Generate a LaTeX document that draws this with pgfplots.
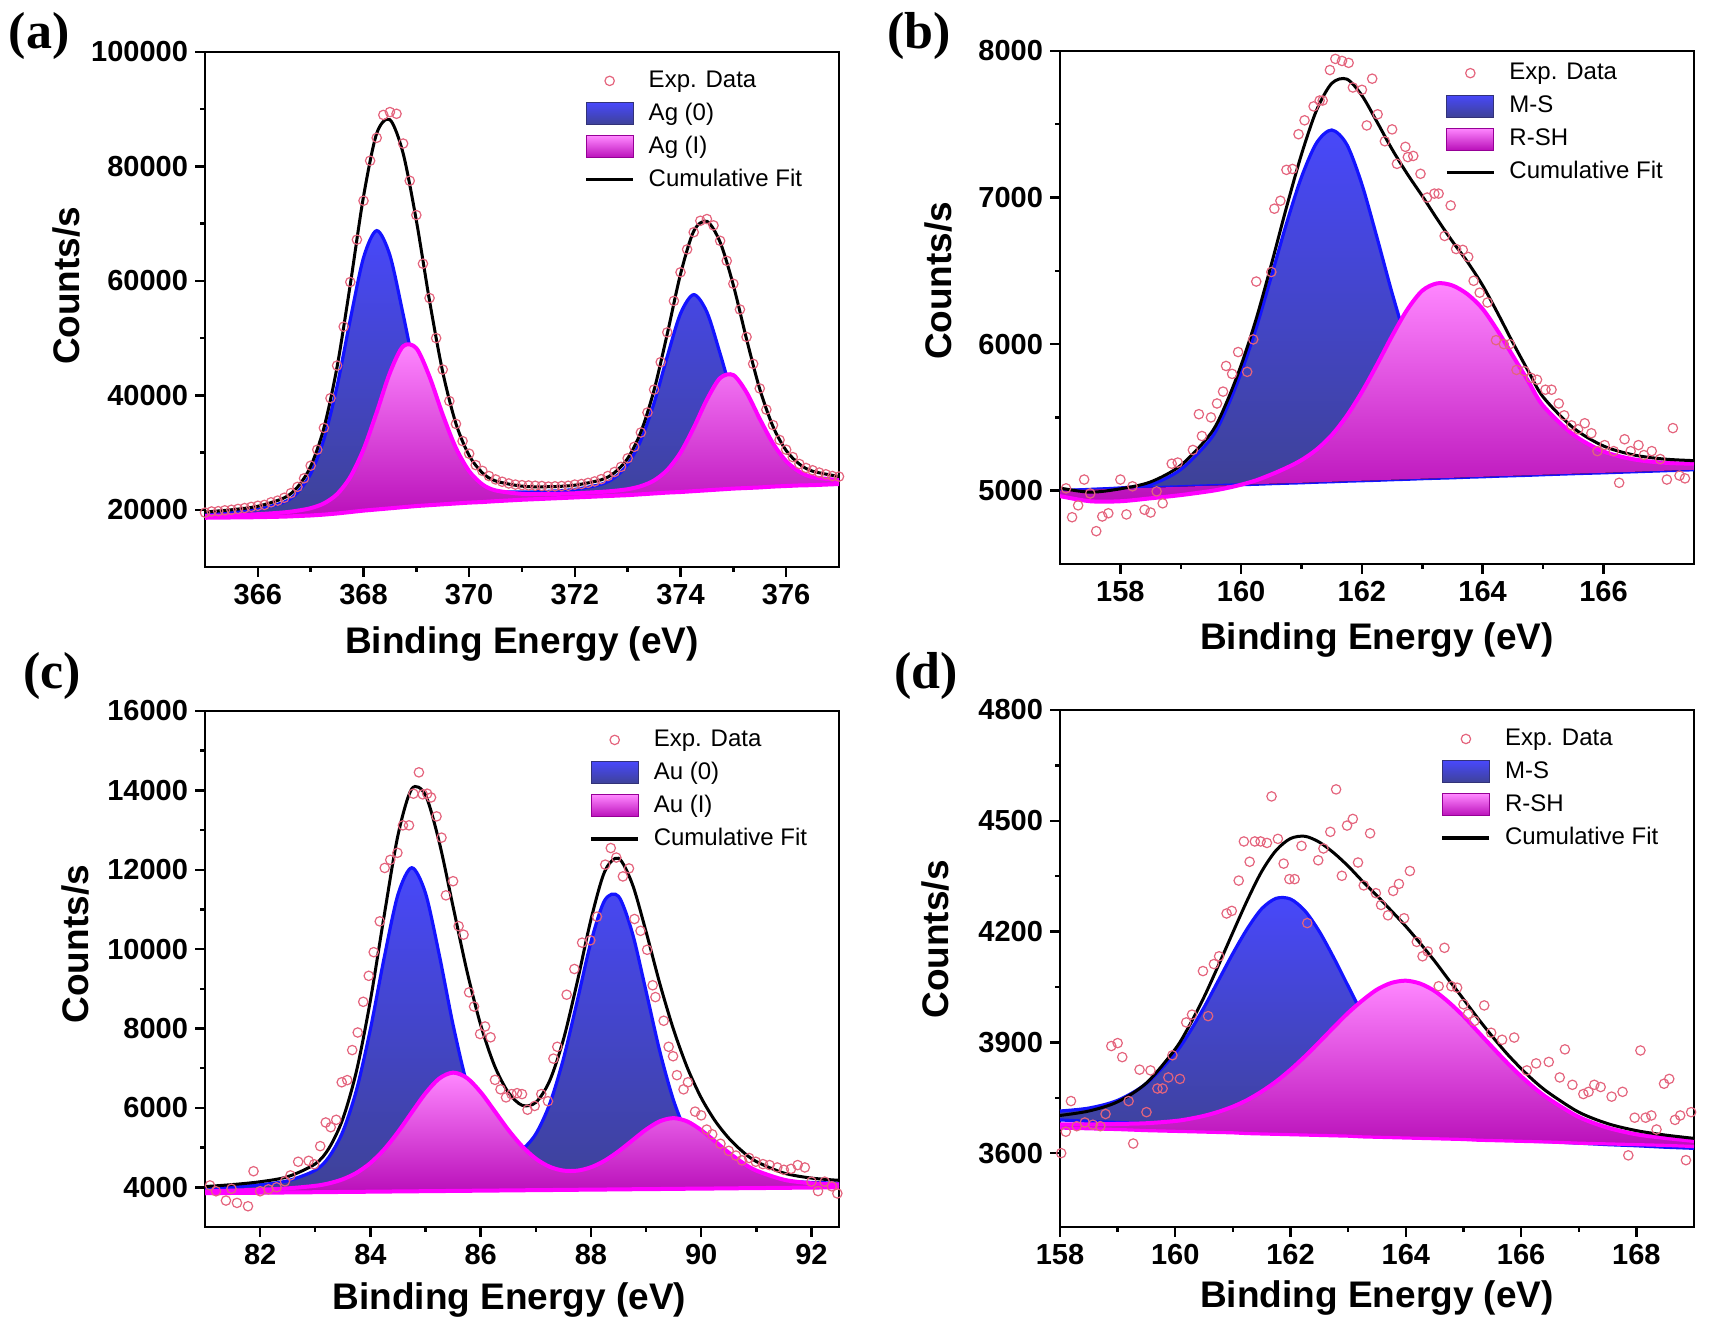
\documentclass[border=0pt]{standalone}
\usepackage{fontspec}
\setmainfont{Liberation Sans}
\newfontfamily\tnr{Liberation Serif}
\usepackage{pgfplots}
\pgfplotsset{compat=1.18}
\usepackage{pgfplotstable}
\usepgfplotslibrary{fillbetween}

\definecolor{bline}{RGB}{20,20,255}
\definecolor{btop}{RGB}{72,72,250}
\definecolor{bbot}{RGB}{62,66,150}
\definecolor{bdk}{RGB}{50,50,120}
\definecolor{mline}{RGB}{255,0,255}
\definecolor{mtop}{RGB}{255,135,255}
\definecolor{mbot}{RGB}{185,15,185}
\definecolor{mdk}{RGB}{150,0,150}
\definecolor{dat}{RGB}{228,100,125}

% ---------------- panel (a) ----------------
\pgfplotstableread{
x base c1 c2 fit
365 18600 19304 18904 19608
365.5 18650 19605 19043 19998
366 18700 20086 19225 20611
366.5 18800 21343 19546 22089
366.75 18900 23009 19839 23948
367 19000 26306 20277 27583
367.25 19150 32312 21110 34272
367.5 19350 41599 22733 44982
367.75 19600 53256 25727 59383
368 19850 64046 30540 74736
368.25 20050 68787 37034 85771
368.5 20250 64470 43940 88160
368.75 20450 54154 48576 82280
369 20650 42971 48234 70555
369.25 20800 34058 43252 56510
369.5 20950 28379 36620 44049
369.75 21100 25362 30780 35042
370 21250 23980 26750 29480
370.25 21350 23360 24445 26455
370.5 21500 23157 23380 25037
371 21750 23093 22784 24127
371.5 21950 23221 22754 24025
372 22150 23563 22883 24296
372.5 22350 24464 23127 25241
372.75 22450 25615 23313 26478
373 22550 27931 23591 28972
373.25 22700 32162 24127 33589
373.5 22850 38667 25120 40937
373.75 23000 46803 26961 50764
374 23100 54285 29987 61172
374.25 23250 57594 34343 68687
374.5 23400 54550 39261 70411
374.75 23550 47285 43020 66755
375 23700 39415 43538 59253
375.25 23800 33126 40510 49836
375.5 23900 29106 35891 41097
375.75 24050 26996 31616 34562
376 24150 25999 28501 30350
376.25 24250 25562 26666 27978
376.5 24300 25327 25711 26738
377 24500 25217 25193 25810
}\tA
\pgfplotstableread{
x y
365.0 19500
365.125 19700
365.25 19750
365.375 19900
365.5 20000
365.625 20150
365.75 20300
365.875 20500
366.0 20700
366.125 20850
366.25 21300
366.375 21600
366.5 22100
366.625 22900
366.75 24000
366.875 25500
367.0 27700
367.125 30500
367.25 34300
367.375 39500
367.5 45200
367.625 52000
367.75 59800
367.875 67200
368.0 74000
368.125 81000
368.25 85000
368.375 89000
368.5 89500
368.625 89200
368.75 84000
368.875 77500
369.0 71500
369.125 63000
369.25 57000
369.375 50000
369.5 44500
369.625 39000
369.75 35000
369.875 32000
370.0 29800
370.125 27800
370.25 26800
370.375 25900
370.5 25300
370.625 24900
370.75 24600
370.875 24400
371.0 24300
371.125 24250
371.25 24200
371.375 24150
371.5 24050
371.625 24100
371.75 24150
371.875 24200
372.0 24400
372.125 24500
372.25 24700
372.375 24950
372.5 25350
372.625 25900
372.75 26600
372.875 27500
373.0 29000
373.125 31000
373.25 33500
373.375 37000
373.5 41000
373.625 45800
373.75 51000
373.875 56500
374.0 61500
374.125 65500
374.25 68500
374.375 70500
374.5 70800
374.625 69700
374.75 67000
374.875 63500
375.0 59500
375.125 55000
375.25 50200
375.375 45500
375.5 41200
375.625 37500
375.75 34800
375.875 32200
376.0 30500
376.125 29200
376.25 28000
376.375 27300
376.5 26900
376.625 26500
376.75 26200
376.875 25900
377.0 25800
}\dA

% ---------------- panel (b) ----------------
\pgfplotstableread{
x base c1 c2 fit
157 5000 5000 4963 5018
157.5 5007 5009 4928 4990
158 5014 5019 4928 5013
158.5 5020 5042 4948 5060
159 5027 5145 4970 5173
159.5 5034 5356 4998 5392
159.75 5037 5552 5017 5594
160 5041 5807 5041 5857
160.25 5044 6112 5071 6174
160.5 5048 6463 5111 6544
160.75 5051 6822 5156 6932
161 5054 7141 5209 7296
161.25 5058 7374 5281 7597
161.5 5061 7461 5379 7779
161.75 5065 7362 5511 7808
162 5068 7090 5674 7696
162.25 5071 6727 5860 7516
162.5 5075 6348 6056 7329
162.75 5078 6005 6235 7162
163 5082 5727 6365 7010
163.25 5085 5521 6415 6851
163.5 5088 5379 6400 6700
163.75 5092 5290 6340 6560
164 5095 5236 6240 6400
164.25 5099 5205 6090 6210
164.5 5102 5186 5920 6010
164.75 5105 5175 5750 5820
165 5109 5169 5580 5640
165.5 5116 5162 5383 5429
166 5122 5159 5268 5305
166.5 5129 5159 5214 5244
167 5136 5161 5191 5216
167.5 5143 5164 5184 5205
}\tB
\pgfplotstableread{
x y
157.1 5016
157.2 4819
157.3 4900
157.4 5076
157.5 4981
157.6 4724
157.7 4824
157.8 4846
158.0 5076
158.1 4838
158.2 5030
158.4 4870
158.5 4851
158.6 4995
158.7 4914
158.85 5184
158.95 5192
159.2 5278
159.3 5522
159.35 5373
159.5 5500
159.6 5595
159.7 5676
159.75 5851
159.85 5797
159.95 5946
160.1 5811
160.2 6032
160.25 6427
160.5 6492
160.55 6924
160.65 6978
160.75 7189
160.85 7195
160.95 7432
161.05 7527
161.2 7622
161.3 7662
161.35 7662
161.47 7870
161.56 7946
161.67 7932
161.78 7919
161.85 7751
162.0 7735
162.08 7492
162.17 7811
162.26 7568
162.38 7384
162.5 7465
162.58 7230
162.72 7346
162.76 7276
162.85 7284
162.97 7162
163.08 7000
163.2 7027
163.27 7027
163.37 6738
163.47 6946
163.56 6649
163.67 6643
163.76 6595
163.85 6432
163.95 6351
164.08 6284
164.22 6027
164.35 6000
164.45 6000
164.56 5824
164.69 5816
164.8 5770
164.9 5757
165.04 5689
165.14 5689
165.26 5595
165.35 5514
165.47 5446
165.58 5419
165.69 5460
165.8 5392
165.9 5270
166.02 5311
166.17 5270
166.26 5054
166.35 5351
166.45 5270
166.58 5311
166.67 5243
166.8 5270
166.94 5216
167.05 5076
167.15 5427
167.26 5103
167.35 5084
}\dB

% ---------------- panel (c) ----------------
\pgfplotstableread{
x base c1 c2 fit
81 3850 3969 3899 4018
81.5 3857 4009 3917 4069
82 3863 4064 3939 4140
82.5 3870 4164 3973 4267
83 3876 4429 4037 4590
83.25 3879 4767 4100 4988
83.5 3883 5404 4203 5724
83.75 3886 6463 4366 6943
84 3889 7985 4612 8708
84.25 3892 9783 4955 10846
84.5 3896 11375 5391 12870
84.75 3899 12051 5886 14038
85 3902 11408 6370 13876
85.25 3905 9851 6742 12688
85.5 3909 8091 6889 11071
85.75 3912 6612 6756 9456
86 3915 5611 6398 8094
86.25 3918 5058 5928 7068
86.5 3922 4865 5451 6394
86.75 3925 4955 5037 6067
87 3928 5344 4722 6138
87.25 3931 6091 4518 6678
87.5 3935 7230 4421 7716
87.75 3938 8682 4419 9163
88 3941 10178 4504 10741
88.25 3944 11229 4671 11956
88.5 3948 11332 4906 12290
88.75 3951 10415 5180 11644
89 3954 8941 5454 10441
89.25 3957 7423 5664 9130
89.5 3961 6186 5743 7968
89.75 3964 5315 5658 7009
90 3967 4781 5442 6256
90.25 3970 4490 5159 5679
90.5 3974 4340 4873 5239
90.75 3977 4258 4621 4902
91 3980 4207 4422 4649
91.5 3987 4155 4191 4359
92 3993 4123 4102 4232
92.5 4000 4104 4072 4176
}\tC
\pgfplotstableread{
x y
81.09 4048
81.2 3900
81.38 3666
81.48 3964
81.58 3607
81.78 3523
81.88 4405
82.0 3900
82.15 3950
82.3 4000
82.45 4150
82.55 4300
82.69 4644
82.88 4667
82.98 4580
83.09 5037
83.19 5633
83.28 5514
83.38 5700
83.48 6646
83.58 6700
83.67 7457
83.77 7900
83.87 8673
83.97 9328
84.06 9924
84.17 10700
84.26 12046
84.36 12249
84.49 12427
84.59 13119
84.7 13119
84.78 13917
84.88 14454
84.95 13900
85.03 13917
85.1 13822
85.2 13345
85.29 12809
85.37 11355
85.5 11712
85.6 10580
85.69 10365
85.79 8911
85.88 8554
85.99 7862
86.08 8052
86.18 7779
86.26 6706
86.36 6468
86.46 6265
86.56 6348
86.66 6372
86.75 6348
86.85 5955
86.98 6050
87.1 6348
87.22 6169
87.32 7242
87.39 7540
87.56 8852
87.7 9500
87.84 10163
87.99 10222
88.11 10818
88.26 12129
88.36 12547
88.46 12308
88.58 11832
88.69 12034
88.79 10759
88.9 10461
89.02 9984
89.12 9090
89.17 8792
89.32 8196
89.41 7540
89.49 7302
89.56 6825
89.68 6468
89.76 6646
89.89 5907
90.0 5812
90.1 5454
90.2 5335
90.35 5097
90.5 4918
90.63 4799
90.74 4679
90.87 4739
90.99 4644
91.12 4584
91.24 4560
91.38 4500
91.5 4441
91.63 4465
91.75 4560
91.88 4500
92.0 4143
92.12 3905
92.24 4143
92.37 4024
92.47 3845
}\dC

% ---------------- panel (d) ----------------
\pgfplotstableread{
x bms brs c1 c2 fit
158 3690 3668 3714 3678 3702
158.5 3686 3666 3722 3678 3714
159 3683 3664 3743 3679 3739
159.5 3680 3661 3789 3681 3790
160 3676 3659 3871 3687 3882
160.25 3674 3658 3928 3693 3947
160.5 3673 3657 3995 3701 4023
160.75 3671 3656 4068 3712 4109
161 3669 3655 4141 3726 4198
161.25 3667 3653 4208 3744 4285
161.5 3666 3652 4262 3767 4363
161.75 3664 3651 4290 3794 4420
162 3662 3650 4288 3826 4452
162.25 3660 3649 4256 3862 4458
162.5 3659 3648 4200 3901 4442
162.75 3657 3647 4129 3941 4413
163 3655 3646 4052 3980 4377
163.25 3653 3644 3975 4014 4336
163.5 3652 3643 3906 4043 4297
163.75 3650 3642 3845 4061 4256
164 3648 3641 3795 4067 4214
164.25 3646 3640 3755 4059 4168
164.5 3645 3639 3726 4039 4120
164.75 3643 3638 3703 4008 4068
165 3641 3637 3687 3971 4017
165.25 3639 3635 3675 3929 3965
165.5 3638 3634 3667 3887 3916
165.75 3636 3633 3660 3846 3870
166 3634 3632 3655 3808 3829
166.25 3632 3631 3650 3774 3792
166.5 3631 3630 3647 3745 3761
167 3627 3627 3640 3698 3711
167.5 3623 3625 3634 3669 3680
168 3620 3623 3630 3651 3661
168.5 3616 3621 3624 3641 3649
169 3613 3618 3620 3633 3640
}\tD
\pgfplotstableread{
x y
158.02 3600
158.1 3658
158.19 3741
158.29 3673
158.43 3683
158.57 3677
158.7 3673
158.79 3706
158.89 3890
159.0 3898
159.08 3860
159.19 3741
159.27 3626
159.38 3826
159.5 3711
159.57 3824
159.69 3775
159.78 3775
159.88 3805
159.95 3865
160.08 3801
160.19 3954
160.29 3975
160.48 4093
160.57 3971
160.67 4112
160.76 4133
160.89 4249
160.98 4256
161.1 4338
161.19 4444
161.29 4389
161.38 4444
161.48 4444
161.59 4440
161.67 4566
161.78 4451
161.88 4384
161.98 4342
162.07 4342
162.19 4432
162.29 4223
162.48 4393
162.57 4425
162.69 4470
162.79 4585
162.89 4351
162.98 4487
163.08 4505
163.17 4387
163.27 4325
163.38 4466
163.48 4304
163.57 4272
163.69 4244
163.78 4310
163.88 4329
163.97 4236
164.07 4364
164.19 4172
164.29 4133
164.38 4146
164.57 4052
164.67 4156
164.79 4052
164.89 4048
165.0 4003
165.08 3977
165.19 3958
165.36 4000
165.48 3926
165.67 3907
165.88 3913
166.1 3824
166.26 3843
166.48 3847
166.67 3805
166.76 3881
166.89 3785
167.08 3760
167.17 3766
167.27 3785
167.38 3779
167.57 3753
167.76 3766
167.86 3594
167.97 3696
168.07 3878
168.16 3696
168.26 3702
168.35 3664
168.48 3788
168.57 3801
168.67 3690
168.76 3702
168.86 3581
168.95 3711
}\dD

\pgfplotsset{
  xps/.style={
    set layers,
    scale only axis, width=317pt, anchor=south west,
    axis line style={line width=1.3pt},
    tick align=outside, tick pos=left,
    major tick length=5pt, minor tick length=2.5pt,
    tick style={line width=1.2pt, black},
    tick label style={font=\fontsize{14.5}{16}\selectfont\bfseries},
    /pgf/number format/fixed,
    /pgf/number format/precision=0,
    /pgf/number format/assume math mode=true,
    /pgf/number format/1000 sep={},
    scaled ticks=false,
    label style={font=\fontsize{18.5}{21}\selectfont\bfseries},
    xlabel={Binding Energy (eV)}, ylabel={Counts/s},
    minor x tick num=1, minor y tick num=1,
    legend cell align=left,
    legend style={draw=none, fill=none, inner sep=0pt, row sep=5pt, anchor=north west,
      font=\fontsize{12}{14}\selectfont,
      nodes={inner sep=0pt, text height=9pt, text depth=2.5pt}},
  },
  dpt/.style={only marks, mark=o, mark size=2.35pt, dat, line width=0.6pt},
}

\newcommand{\mylegend}[2]{%
  \addlegendimage{dat, line width=0.6pt, mark=o, mark size=2.35pt, only marks,
    legend image code/.code={\draw[mark repeat=2,mark phase=2] plot coordinates {(0pt,0pt) (11.75pt,0pt) (23.5pt,0pt)}; \path (31pt,0pt);}}
  \addlegendentry{Exp. Data}
  \addlegendimage{legend image code/.code={\draw[draw=bdk, line width=0.5pt, top color=btop, bottom color=bbot] (0pt,-5.5pt) rectangle (23.5pt,5.5pt); \path (31pt,0pt);}}
  \addlegendentry{#1}
  \addlegendimage{legend image code/.code={\draw[draw=mdk, line width=0.5pt, top color=mtop, bottom color=mbot] (0pt,-5.5pt) rectangle (23.5pt,5.5pt); \path (31pt,0pt);}}
  \addlegendentry{#2}
  \addlegendimage{legend image code/.code={\draw[black, line width=1.6pt] (0pt,0pt) -- (23.5pt,0pt); \path (31pt,0pt);}}
  \addlegendentry{Cumulative Fit}
}

\begin{document}
\begin{tikzpicture}
\path (0,0) rectangle (855.5pt,668pt);

% ===== (a) =====
\begin{axis}[xps, at={(102.5pt,384.5pt)}, height=257.5pt,
  xmin=365, xmax=377, ymin=10000, ymax=100000,
  xtick={366,368,...,376}, ytick={20000,40000,...,100000},
  ylabel style={at={(axis description cs:-0.218,0.546)}, anchor=center},
  xlabel style={at={(axis description cs:0.5,-0.15)}, anchor=center},
  legend style={at={(0.598,0.967)}}]
\mylegend{Ag (0)}{Ag (I)}
\addplot[draw=none, forget plot, name path=baseA] table[x=x,y=base]{\tA};
\addplot[draw=none, forget plot, smooth, name path=c1A] table[x=x,y=c1]{\tA};
\addplot[draw=none, forget plot, smooth, name path=c2A] table[x=x,y=c2]{\tA};
\addplot[top color=btop, bottom color=bbot, draw=none, forget plot] fill between[of=c1A and baseA];
\addplot[bline, line width=1.6pt, smooth, forget plot, on layer=pre main] table[x=x,y=c1]{\tA};
\addplot[top color=mtop, bottom color=mbot, draw=none, forget plot] fill between[of=c2A and baseA];
\addplot[mline, line width=2pt, smooth, forget plot] table[x=x,y=c2]{\tA};
\addplot[mline, line width=2pt, forget plot] table[x=x,y=base]{\tA};
\addplot[dpt, forget plot] table[x=x,y=y]{\dA};
\addplot[black, line width=1.5pt, smooth, forget plot] table[x=x,y=fit]{\tA};
\end{axis}

% ===== (b) =====
\begin{axis}[xps, at={(530pt,386pt)}, height=256.5pt,
  xmin=157, xmax=167.5, ymin=4500, ymax=8000,
  xtick={158,160,...,166}, ytick={5000,6000,7000,8000},
  ylabel style={at={(axis description cs:-0.192,0.552)}, anchor=center},
  xlabel style={at={(axis description cs:0.5,-0.148)}, anchor=center},
  legend style={at={(0.607,0.980)}}]
\mylegend{M-S}{R-SH}
\addplot[draw=none, forget plot, name path=baseB] table[x=x,y=base]{\tB};
\addplot[draw=none, forget plot, smooth, name path=c1B] table[x=x,y=c1]{\tB};
\addplot[draw=none, forget plot, smooth, name path=c2B] table[x=x,y=c2]{\tB};
\addplot[top color=btop, bottom color=bbot, draw=none, forget plot] fill between[of=c1B and baseB];
\addplot[bline, line width=1.6pt, smooth, forget plot, on layer=pre main] table[x=x,y=c1]{\tB};
\addplot[bline, line width=1.6pt, forget plot, on layer=pre main] table[x=x,y=base]{\tB};
\addplot[top color=mtop, bottom color=mbot, draw=none, forget plot] fill between[of=c2B and baseB];
\addplot[mline, line width=2pt, smooth, forget plot] table[x=x,y=c2]{\tB};
\addplot[dpt, forget plot] table[x=x,y=y]{\dB};
\addplot[black, line width=1.5pt, smooth, forget plot] table[x=x,y=fit]{\tB};
\end{axis}

% ===== (c) =====
\begin{axis}[xps, at={(102.5pt,54.5pt)}, height=258pt,
  xmin=81, xmax=92.5, ymin=3000, ymax=16000,
  xtick={82,84,...,92}, ytick={4000,6000,...,16000},
  ylabel style={at={(axis description cs:-0.205,0.548)}, anchor=center},
  xlabel style={at={(axis description cs:0.48,-0.141)}, anchor=center},
  legend style={at={(0.606,0.967)}}]
\mylegend{Au (0)}{Au (I)}
\addplot[draw=none, forget plot, name path=baseC] table[x=x,y=base]{\tC};
\addplot[draw=none, forget plot, smooth, name path=c1C] table[x=x,y=c1]{\tC};
\addplot[draw=none, forget plot, smooth, name path=c2C] table[x=x,y=c2]{\tC};
\addplot[top color=btop, bottom color=bbot, draw=none, forget plot] fill between[of=c1C and baseC];
\addplot[bline, line width=1.6pt, smooth, forget plot, on layer=pre main] table[x=x,y=c1]{\tC};
\addplot[top color=mtop, bottom color=mbot, draw=none, forget plot] fill between[of=c2C and baseC];
\addplot[mline, line width=2pt, smooth, forget plot] table[x=x,y=c2]{\tC};
\addplot[mline, line width=2pt, forget plot] table[x=x,y=base]{\tC};
\addplot[dpt, forget plot] table[x=x,y=y]{\dC};
\addplot[black, line width=1.5pt, smooth, forget plot] table[x=x,y=fit]{\tC};
\end{axis}

% ===== (d) =====
\begin{axis}[xps, at={(530pt,54.5pt)}, height=258.5pt,
  xmin=158, xmax=169, ymin=3400, ymax=4800,
  xtick={158,160,...,168}, ytick={3600,3900,4200,4500,4800},
  ylabel style={at={(axis description cs:-0.196,0.556)}, anchor=center},
  xlabel style={at={(axis description cs:0.5,-0.138)}, anchor=center},
  legend style={at={(0.600,0.967)}}]
\mylegend{M-S}{R-SH}
\addplot[draw=none, forget plot, name path=bmsD] table[x=x,y=bms]{\tD};
\addplot[draw=none, forget plot, name path=brsD] table[x=x,y=brs]{\tD};
\addplot[draw=none, forget plot, smooth, name path=c1D] table[x=x,y=c1]{\tD};
\addplot[draw=none, forget plot, smooth, name path=c2D] table[x=x,y=c2]{\tD};
\addplot[top color=btop, bottom color=bbot, draw=none, forget plot] fill between[of=c1D and bmsD];
\addplot[bline, line width=1.6pt, smooth, forget plot, on layer=pre main] table[x=x,y=c1]{\tD};
\addplot[bline, line width=1.6pt, forget plot, on layer=pre main] table[x=x,y=bms]{\tD};
\addplot[top color=mtop, bottom color=mbot, draw=none, forget plot] fill between[of=c2D and brsD];
\addplot[mline, line width=2pt, smooth, forget plot] table[x=x,y=c2]{\tD};
\addplot[mline, line width=1.6pt, forget plot] table[x=x,y=brs]{\tD};
\addplot[dpt, forget plot] table[x=x,y=y]{\dD};
\addplot[black, line width=1.5pt, smooth, forget plot] table[x=x,y=fit]{\tD};
\end{axis}

\node[font=\tnr\bfseries\fontsize{26}{28}\selectfont] at (19.5pt,650pt) {(a)};
\node[font=\tnr\bfseries\fontsize{26}{28}\selectfont] at (459.5pt,650pt) {(b)};
\node[font=\tnr\bfseries\fontsize{26}{28}\selectfont] at (26pt,330pt) {(c)};
\node[font=\tnr\bfseries\fontsize{26}{28}\selectfont] at (463pt,330pt) {(d)};
\end{tikzpicture}
\end{document}
